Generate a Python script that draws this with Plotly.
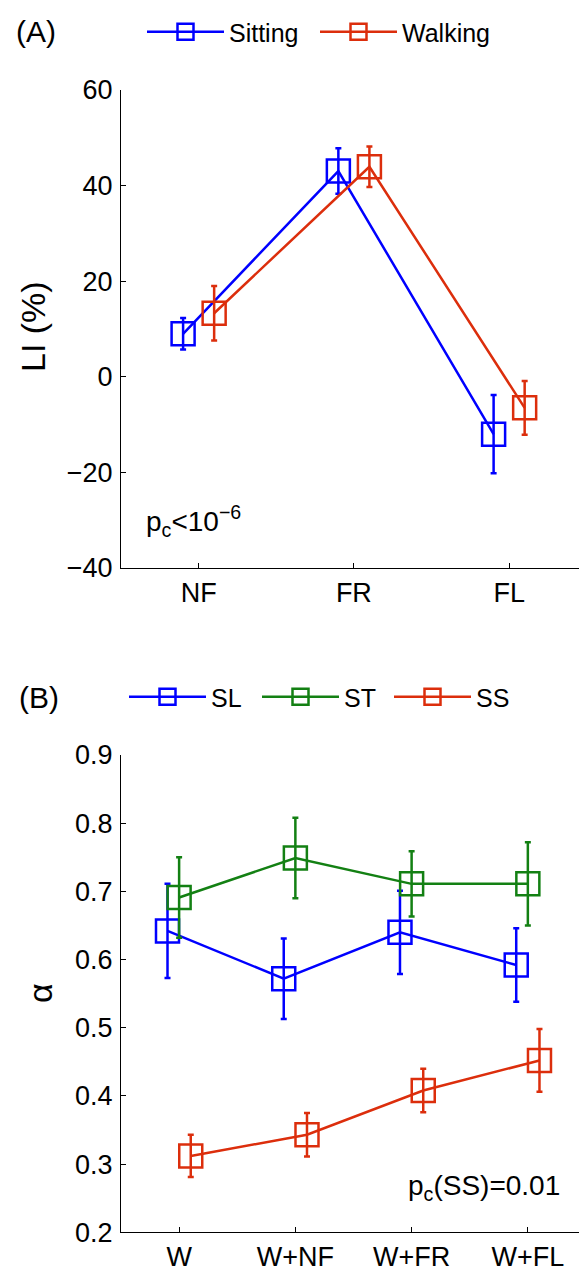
import plotly.graph_objects as go

# ---------------- data ----------------
li_categories = ["NF", "FR", "FL"]
sitting_mean = [9.0, 43.05, -12.0]
sitting_err = [3.3, 4.75, 8.2]
walking_mean = [13.3, 43.95, -6.5]
walking_err = [5.7, 4.25, 5.6]

alpha_categories = ["W", "W+NF", "W+FR", "W+FL"]
sl_mean = [0.642, 0.572, 0.640, 0.592]
sl_err = [0.069, 0.059, 0.061, 0.054]
st_mean = [0.691, 0.749, 0.711, 0.711]
st_err = [0.059, 0.059, 0.048, 0.061]
ss_mean = [0.312, 0.343, 0.408, 0.452]
ss_err = [0.031, 0.032, 0.032, 0.046]

# ---------------- style ----------------
W, H = 579, 1271
BLUE = "#0000FF"
RED = "#DC2E0C"
GREEN = "#138013"
FONT = "Liberation Sans, Arial, Helvetica, sans-serif"
LW = 2.5
MS = 23
TICK_FS = 27
LEG_FS = 25


def px_x(p):
    return p / W


def px_y(p):
    return 1 - p / H


fig = go.Figure()


def add_series(xcat, offset, mean, err, color, name, xa, ya, legend):
    xs = [i + 1 + offset for i in range(len(xcat))]
    fig.add_trace(go.Scatter(
        x=xs, y=mean, name=name, mode="lines+markers",
        line=dict(color=color, width=LW),
        marker=dict(symbol="square-open", size=MS, color=color,
                    line=dict(color=color, width=LW)),
        error_y=dict(type="data", array=err, visible=True, color=color,
                     thickness=LW, width=3),
        xaxis=xa, yaxis=ya, legend=legend,
    ))


add_series(li_categories, -0.1, sitting_mean, sitting_err, BLUE, "Sitting", "x", "y", "legend")
add_series(li_categories, 0.1, walking_mean, walking_err, RED, "Walking", "x", "y", "legend2")

add_series(alpha_categories, -0.1, sl_mean, sl_err, BLUE, "SL", "x2", "y2", "legend3")
add_series(alpha_categories, 0.0, st_mean, st_err, GREEN, "ST", "x2", "y2", "legend4")
add_series(alpha_categories, 0.1, ss_mean, ss_err, RED, "SS", "x2", "y2", "legend5")

axis_common = dict(
    showline=True, linecolor="black", linewidth=1.3,
    ticks="inside", ticklen=5, tickcolor="black", tickwidth=1.3,
    showgrid=False, zeroline=False, automargin=False,
    tickfont=dict(family=FONT, size=TICK_FS, color="black"),
)


def legend_at(x_line_start, y_center):
    return dict(orientation="h", x=px_x(x_line_start - 5), y=px_y(y_center),
                xanchor="left", yanchor="middle",
                font=dict(family=FONT, size=LEG_FS),
                bgcolor="rgba(0,0,0,0)", itemwidth=77)


x_left = px_x(121)
fig.update_layout(
    width=W, height=H,
    margin=dict(l=0, r=0, t=0, b=0),
    paper_bgcolor="white", plot_bgcolor="white",
    font=dict(family=FONT, color="black"),
    xaxis=dict(domain=[x_left, 1], range=[0.5, 3.45],
               tickvals=[1, 2, 3], ticktext=li_categories, anchor="y",
               **axis_common),
    yaxis=dict(domain=[px_y(568), px_y(90)], range=[-40, 60],
               tickvals=[-40, -20, 0, 20, 40, 60], anchor="x",
               ticklabelstandoff=2,
               **axis_common),
    xaxis2=dict(domain=[x_left, 1], range=[0.5, 4.44],
                tickvals=[1, 2, 3, 4], ticktext=alpha_categories, anchor="y2",
                **axis_common),
    yaxis2=dict(domain=[px_y(1232.3), px_y(755)], range=[0.2, 0.9],
                tickvals=[0.2, 0.3, 0.4, 0.5, 0.6, 0.7, 0.8, 0.9],
                tickformat=".1f", anchor="x2",
                ticklabelstandoff=2,
                **axis_common),
    legend=legend_at(147, 32),
    legend2=legend_at(320, 32),
    legend3=legend_at(129, 697),
    legend4=legend_at(262, 697),
    legend5=legend_at(394, 697),
    showlegend=True,
)

annots = [
    dict(text="(A)", x=px_x(14), y=px_y(32), xanchor="left", yanchor="middle",
         font=dict(size=30)),
    dict(text="(B)", x=px_x(17), y=px_y(697), xanchor="left", yanchor="middle",
         font=dict(size=30)),
    dict(text="LI (%)", x=px_x(33), y=px_y(327), textangle=-90,
         xanchor="center", yanchor="middle", font=dict(size=34)),
    dict(text="α", x=px_x(40), y=px_y(993), textangle=-90,
         xanchor="center", yanchor="middle", font=dict(size=34)),
    dict(text="p<sub>c</sub>&lt;10<sup>−6</sup>", x=px_x(144), y=px_y(521),
         xanchor="left", yanchor="middle", font=dict(size=28)),
    dict(text="p<sub>c</sub>(SS)=0.01", x=px_x(562), y=px_y(1187),
         xanchor="right", yanchor="middle", font=dict(size=28)),
]
for a in annots:
    a.update(xref="paper", yref="paper", showarrow=False)
    a["font"] = dict(family=FONT, color="black", **a["font"])
fig.update_layout(annotations=annots)

fig.write_html("out.html",
               config={"displayModeBar": False},
               post_script="document.body.style.margin='0';"
                           "document.body.style.overflow='hidden';")
